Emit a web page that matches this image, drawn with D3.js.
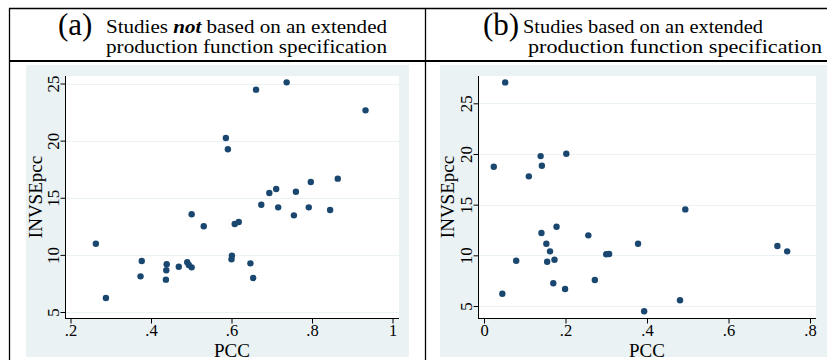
<!DOCTYPE html>
<html lang="en">
  <head>
    <meta charset="utf-8">
    <title>INVSEpcc vs PCC</title>
    <script src="https://d3js.org/d3.v7.min.js"></script>
    <style>
      body { margin: 0; background: #fff; }
      svg text { font-family: "Liberation Serif", "Times New Roman", serif; fill: #000; }
    </style>
  </head>
  <body>
    <svg id="chart" width="827" height="360"></svg>

    <script type="text/javascript">
      // panel (a): studies not based on an extended production function
      var pccA = [0.661, 0.737, 0.933, 0.586, 0.591, 0.864, 0.797, 0.711, 0.694, 0.760,
                  0.674, 0.716, 0.792, 0.755, 0.845, 0.501, 0.531, 0.608, 0.618, 0.263,
                  0.377, 0.374, 0.288, 0.439, 0.438, 0.437, 0.469, 0.490, 0.494, 0.501,
                  0.601, 0.600, 0.647, 0.654];
      var invA = [24.46, 25.10, 22.65, 20.23, 19.24, 16.67, 16.38, 15.77, 15.42, 15.53,
                  14.39, 14.16, 14.16, 13.46, 13.93, 13.55, 12.50, 12.70, 12.88, 10.98,
                  9.46, 8.12, 6.23, 9.18, 8.65, 7.83, 8.96, 9.35, 9.11, 8.91,
                  9.93, 9.61, 9.26, 7.98];

      // panel (b): studies based on an extended production function
      var pccB = [0.052, 0.024, 0.139, 0.142, 0.110, 0.202, 0.494, 0.141, 0.178, 0.153,
                  0.256, 0.378, 0.720, 0.744, 0.162, 0.300, 0.307, 0.079, 0.155, 0.173,
                  0.170, 0.272, 0.199, 0.045, 0.481, 0.393];
      var invB = [27.06, 18.74, 19.79, 18.84, 17.79, 20.02, 14.53, 12.20, 12.82, 11.14,
                  11.97, 11.14, 10.92, 10.39, 10.39, 10.10, 10.13, 9.47, 9.37, 9.57,
                  7.24, 7.56, 6.68, 6.21, 5.56, 4.48];

      var xTicksA = [0.2, 0.4, 0.6, 0.8, 1];
      var xTicksB = [0, 0.2, 0.4, 0.6, 0.8];
      var yTicks = [5, 10, 15, 20, 25];

      var svg = d3.select("#chart");
      var bgColor = "#eaf2f3";
      var dotColor = "#1a476f";

      // stata style tick labels: .2 .4 ... 1
      function fmtTick(d) {
        if (d == 0 || d == 1) return String(d);
        return String(d).replace(/^0/, "");
      }

      function drawPanel(p) {
        var g = svg.append("g");

        g.append("rect")
          .attr("x", p.bg[0]).attr("y", 65)
          .attr("width", p.bg[1] - p.bg[0]).attr("height", 292)
          .attr("fill", bgColor);

        g.append("rect")
          .attr("x", p.plot[0]).attr("y", 76)
          .attr("width", p.plot[1] - p.plot[0]).attr("height", 242)
          .attr("fill", "#fff");

        var x = d3.scaleLinear().domain(p.xDomain).range(p.xRange);
        var y = d3.scaleLinear().domain([5, 25]).range(p.yRange);

        // gridlines
        g.selectAll("line.grid").data(yTicks).enter().append("line")
          .attr("class", "grid")
          .attr("x1", p.plot[0]).attr("x2", p.plot[1])
          .attr("y1", function(d) { return Math.round(y(d)) + 0.5 })
          .attr("y2", function(d) { return Math.round(y(d)) + 0.5 })
          .attr("stroke", bgColor).attr("stroke-width", 1.2);

        var yAxis = g.append("g")
          .attr("transform", "translate(" + (p.plot[0] + 0.5) + ",0)")
          .call(d3.axisLeft(y).tickValues(yTicks).tickSize(5).tickSizeOuter(0));
        yAxis.select(".domain").remove();
        yAxis.append("line")
          .attr("x1", 0).attr("x2", 0).attr("y1", 76).attr("y2", 318.5)
          .attr("stroke", "#000");
        yAxis.selectAll(".tick text")
          .attr("x", 0).attr("y", -7).attr("dy", 0)
          .attr("text-anchor", "middle")
          .attr("transform", "rotate(-90)")
          .style("font-size", "17px");

        var xAxis = g.append("g")
          .attr("transform", "translate(0," + 318.5 + ")")
          .call(d3.axisBottom(x).tickValues(p.xTicks).tickSize(5).tickFormat(fmtTick));
        xAxis.select(".domain").remove();
        xAxis.append("line")
          .attr("x1", p.plot[0]).attr("x2", p.plot[1]).attr("y1", 0).attr("y2", 0)
          .attr("stroke", "#000");
        xAxis.selectAll(".tick text")
          .attr("y", 17.5).attr("dy", 0)
          .style("font-size", "16.5px");
        g.selectAll(".tick line").attr("stroke", "#000");

        g.append("text")
          .attr("x", (p.plot[0] + p.plot[1]) / 2).attr("y", 357)
          .attr("text-anchor", "middle")
          .style("font-size", "19px")
          .text("PCC");

        g.append("text")
          .attr("transform", "translate(" + p.yTitleX + ",197) rotate(-90)")
          .attr("text-anchor", "middle")
          .style("font-size", "19px")
          .text("INVSEpcc");

        g.selectAll("circle").data(p.xs).enter().append("circle")
          .attr("cx", function(d) { return x(d) })
          .attr("cy", function(d, i) { return y(p.ys[i]) })
          .attr("r", 3.2)
          .attr("fill", dotColor);
      }

      drawPanel({
        bg: [26, 409], plot: [65, 399],
        xDomain: [0.2, 1], xRange: [70.5, 392.5], yRange: [312, 83.5],
        xTicks: xTicksA, xs: pccA, ys: invA, yTitleX: 42
      });
      drawPanel({
        bg: [440, 827], plot: [478, 816],
        xDomain: [0, 0.8], xRange: [484, 810], yRange: [306, 103.3],
        xTicks: xTicksB, xs: pccB, ys: invB, yTitleX: 454
      });

      // frame lines of the figure
      svg.append("line").attr("x1", 9).attr("x2", 827).attr("y1", 8.5).attr("y2", 8.5)
        .attr("stroke", "#000").attr("stroke-width", 1.3);
      svg.append("line").attr("x1", 9).attr("x2", 827).attr("y1", 61).attr("y2", 61)
        .attr("stroke", "#000").attr("stroke-width", 2);
      svg.append("line").attr("x1", 9.5).attr("x2", 9.5).attr("y1", 8).attr("y2", 360)
        .attr("stroke", "#000").attr("stroke-width", 1.3);
      svg.append("line").attr("x1", 425.5).attr("x2", 425.5).attr("y1", 8).attr("y2", 360)
        .attr("stroke", "#000").attr("stroke-width", 1.3);

      // headers, title lines stretched to the widths of the original
      function header(x, y, size, len, parts) {
        var t = svg.append("text").attr("x", x).attr("y", y)
          .style("font-size", size + "px");
        if (len) t.attr("textLength", len).attr("lengthAdjust", "spacingAndGlyphs");
        parts.forEach(function(part) {
          var s = t.append("tspan").text(part.text);
          if (part.emph) s.style("font-style", "italic").style("font-weight", "bold");
        });
      }

      header(58, 35, 31, null, [{ text: "(a)" }]);
      header(106, 33, 19, 281, [{ text: "Studies " }, { text: "not", emph: true },
        { text: " based on an extended" }]);
      header(106, 53, 19, 281, [{ text: "production function specification" }]);

      header(483, 35, 31, null, [{ text: "(b)" }]);
      header(523, 33, 19, 240, [{ text: "Studies based on an extended" }]);
      header(528, 53, 19, 294, [{ text: "production function specification" }]);
    </script>
  </body>
</html>
